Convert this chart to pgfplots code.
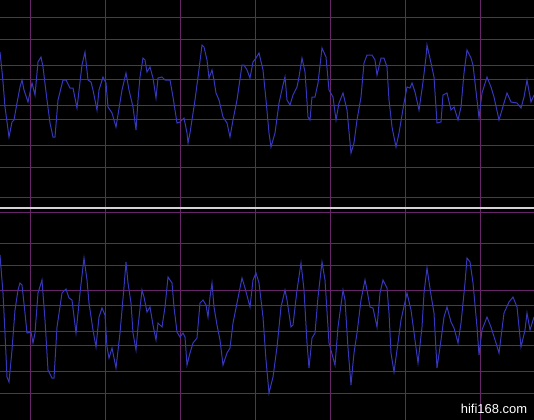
\documentclass[border=0pt]{standalone}
\usepackage{pgfplots}
\pgfplotsset{compat=1.18}
\usepackage{fontspec}
\newfontfamily\wm{Liberation Sans}
\definecolor{gridcol}{RGB}{104,38,104}
\definecolor{wavecol}{RGB}{55,55,185}
\definecolor{sepcol}{RGB}{210,210,215}
\begin{document}
\begin{tikzpicture}
\begin{axis}[
  width=534bp, height=420bp, scale only axis,
  xmin=0, xmax=534, ymin=0, ymax=420, y dir=reverse,
  axis background/.style={fill=black},
  axis line style={draw=none},
  xtick={30.5,105.5,180.5,255.5,330.5,405.5,480.5},
  ytick={17.5,39.5,65.5,79.5,105.5,119.5,145.5,167.5,197.5,212.5,243.5,265.5,290.5,305.5,331.5,345.5,371.5,393.5},
  xticklabels={}, yticklabels={},
  major tick length=0pt,
  grid=major,
  major grid style={color=gridcol, line width=1.1bp},
  clip=true,
]
% separator
\addplot[sepcol, line width=2.6bp] coordinates {(0,207.8) (534,207.8)};
% top channel
\addplot[wavecol, line width=1bp] coordinates {
(0,52)(2.7,78)(5,107)(9,137)(12,122)(14,120)(17,103)(20,87)(22,80)(24,90)(28,102)(32,83)(35,95)(38,62)(41,57)(43,67)(47,100)(50,123)(53,137)(55,137)(58,100)(63,80)(66,80)(70,88)(73,88)(77,108)(82,65)(85,52)(88,80)(91,82)(93,90)(97,110)(99,90)(103,77)(106,83)(108,107)(112,113)(116,127)(122,90)(126,73)(129,90)(133,107)(136,130)(138,100)(140,77)(143,58)(145,60)(147,72)(150,67)(153,78)(156,98)(158,78)(162,77)(165,80)(170,80)(173,97)(177,123)(180,122)
(184,118)(187,133)(188,143)(190,133)(195,100)(198,77)(202,45)(204,47)(207,60)(209,78)(212,70)(214,80)(216,93)(219,100)(223,117)(227,123)(230,137)(233,120)(237,100)(242,65)(244,65)(247,70)(250,78)(253,62)(256,58)(259,53)(263,70)(266,100)(269,133)(271,147)(275,133)(279,103)(283,85)(285,77)(287,100)(290,105)(293,95)(297,87)(299,77)(302,58)(305,72)(308,117)(310,120)(312,97)(315,97)(318,83)(322,48)(326,57)(329,90)(333,97)(336,120)(339,103)(343,93)(347,110)(351,153)(354,143)
(357,120)(361,97)(364,63)(367,55)(372,55)(375,60)(377,75)(381,58)(384,58)(387,67)(389,100)(392,127)(396,147)(399,133)(404,103)(407,87)(410,88)(412,83)(415,92)(419,110)(423,82)(426,57)(427,45)(431,63)(434,77)(437,123)(441,122)(443,95)(447,93)(451,110)(454,107)(458,120)(461,107)(464,73)(467,50)(471,58)(473,65)(477,100)(479,118)(482,93)(487,77)(491,87)(494,97)(499,120)(504,103)(507,93)(511,102)(517,103)(521,108)(524,97)(527,80)(531,102)(534,95)
};
% bottom channel
\addplot[wavecol, line width=1bp] coordinates {
(0,255)(3,293)(5,333)(7,377)(9,382)(12,350)(15,310)(18,290)(20,283)(22,285)(25,313)(27,333)(31,332)(33,343)(35,333)(38,293)(42,280)(45,320)(48,370)(52,378)(54,378)(57,327)(62,293)(66,289)(69,298)(72,300)(76,333)(80,293)(84,258)(87,280)(89,303)(93,330)(96,347)(99,317)(102,308)(105,315)(107,347)(109,358)(112,348)(116,368)(120,333)(124,287)(126,262)(128,283)(131,303)(133,333)(136,350)(138,327)(142,290)(144,297)(147,312)(150,307)(153,325)(156,340)(158,323)(162,327)(165,307)(168,277)(172,283)(174,307)(177,332)(180,337)
(183,333)(185,337)(187,365)(190,353)(193,343)(197,338)(200,303)(203,300)(206,305)(208,317)(210,297)(212,283)(214,307)(217,325)(220,340)(223,365)(227,353)(230,348)(233,323)(237,303)(242,278)(245,288)(250,307)(253,280)(256,273)(259,283)(263,317)(266,360)(269,393)(273,377)(277,347)(281,307)(285,290)(287,300)(291,327)(293,325)(297,290)(301,263)(304,290)(307,343)(309,368)(312,338)(315,333)(318,297)(322,262)(325,280)(329,343)(335,365)(338,327)(343,290)(345,300)(348,348)(351,385)(353,363)(354,353)
(357,333)(361,300)(365,280)(367,290)(370,307)(373,308)(377,327)(380,293)(383,280)(387,288)(389,313)(391,353)(394,372)(397,350)(401,320)(407,293)(411,310)(415,340)(418,363)(422,327)(424,293)(427,268)(431,295)(434,313)(437,368)(441,340)(444,317)(447,307)(451,322)(454,328)(458,343)(461,323)(465,283)(467,258)(470,262)(473,283)(477,327)(479,355)(482,330)(487,317)(491,327)(496,343)(499,353)(504,313)(509,302)(513,297)(517,307)(521,347)(525,330)(527,313)(530,330)(534,317)
};
\node[white, anchor=center, inner sep=0pt] at (axis cs:494,408.5) {\wm\fontsize{13}{14}\selectfont hifi168.com};
\end{axis}
\pgfresetboundingbox
\path[use as bounding box] (current axis.south west) rectangle (current axis.north east);
\end{tikzpicture}
\end{document}
